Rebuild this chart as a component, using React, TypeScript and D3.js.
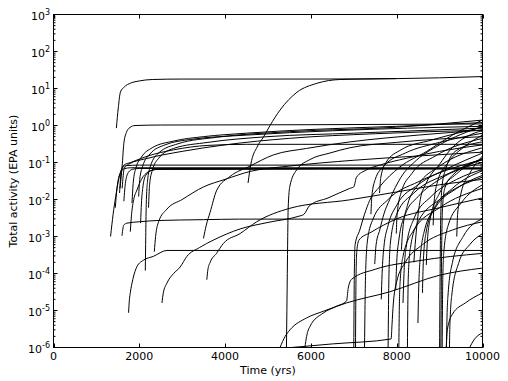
import React from "react";
import * as d3 from "d3";

type P = [number, number];

// x ticks (years) and y decades (exponents)
const xTicks = [0, 2000, 4000, 6000, 8000, 10000];
const yExponents = [-6, -5, -4, -3, -2, -1, 0, 1, 2, 3];

// ---- curves: [time (yrs), total activity (EPA units)] ----
const cTop18: P[] = [[1465, 0.85], [1510, 3], [1560, 8], [1650, 11], [1800, 14], [2000, 16], [2300, 17.5], [3000, 18], [6000, 18], [8000, 18.5], [10000, 21]];
const cRise18: P[] = [[4535, 0.028], [4600, 0.09], [4744, 0.26], [4900, 0.5], [5047, 1.0], [5279, 2.6], [5674, 7.9], [6140, 13.8], [6674, 17.5], [7200, 18], [8000, 18.5]];
const cOne: P[] = [[1550, 0.02], [1600, 0.08], [1640, 0.33], [1700, 0.65], [1780, 0.88], [1900, 1.0], [2500, 1.03], [6000, 1.05], [10000, 1.1]];
const cA: P[] = [[1540, 0.015], [1580, 0.06], [1640, 0.085], [1800, 0.1], [2200, 0.15], [2800, 0.22], [3600, 0.29], [4500, 0.31], [10000, 0.31]];
const cB: P[] = [[1600, 0.02], [1650, 0.07], [1750, 0.09], [2200, 0.13], [3000, 0.2], [4000, 0.3], [5500, 0.45], [7500, 0.6], [10000, 0.75]];
const cS1: P[] = [[1830, 0.008], [1860, 0.03], [1920, 0.07], [2050, 0.14], [2300, 0.25], [2800, 0.38], [3500, 0.5], [4500, 0.62], [6000, 0.78], [8000, 0.95], [10000, 1.2]];
const cS2: P[] = [[1985, 0.012], [2010, 0.035], [2080, 0.08], [2250, 0.17], [2600, 0.3], [3200, 0.42], [4500, 0.55], [6500, 0.72], [10000, 0.95]];
const cS3: P[] = [[2140, 1.2e-4], [2150, 1e-3], [2160, 6e-3], [2190, 0.03], [2260, 0.08], [2450, 0.18], [2900, 0.32], [3800, 0.48], [5500, 0.68], [8000, 0.9], [10000, 1.4]];
const cS4: P[] = [[2215, 0.006], [2240, 0.025], [2300, 0.06], [2450, 0.13], [2800, 0.24], [3600, 0.35], [5000, 0.5], [7000, 0.62], [10000, 0.85]];
const cF1: P[] = [[1330, 1e-3], [1390, 4e-3], [1450, 0.012], [1530, 0.04], [1600, 0.07], [1680, 0.082], [2000, 0.085], [10000, 0.085]];
const cF2: P[] = [[1440, 0.006], [1480, 0.02], [1550, 0.05], [1650, 0.068], [1800, 0.072], [10000, 0.072]];
const cF3: P[] = [[1640, 0.009], [1680, 0.03], [1750, 0.055], [1850, 0.066], [2000, 0.069], [10000, 0.069]];
const cF4: P[] = [[1790, 1.35e-3], [1820, 4e-3], [1870, 0.01], [1945, 0.018], [2050, 0.035], [2200, 0.055], [2400, 0.065], [10000, 0.067]];
const cF5: P[] = [[2030, 2.3e-3], [2050, 8e-3], [2080, 0.02], [2150, 0.045], [2300, 0.062], [2500, 0.066], [10000, 0.068]];
const c3e3: P[] = [[1597, 1.05e-3], [1620, 1.7e-3], [1635, 2.0e-3], [1713, 2.3e-3], [2000, 2.5e-3], [2411, 2.7e-3], [3500, 2.85e-3], [4340, 2.95e-3], [10000, 2.95e-3]];
const c4e4: P[] = [[1750, 8.7e-6], [1770, 2e-5], [1790, 3e-5], [1850, 7e-5], [1947, 1.55e-4], [2100, 2.3e-4], [2326, 2.9e-4], [2644, 4.2e-4], [10000, 4.2e-4]];
const cM1: P[] = [[2350, 3.9e-4], [2380, 1e-3], [2450, 2.5e-3], [2644, 5.5e-3], [3000, 0.01], [3500, 0.022], [4000, 0.035], [4600, 0.058], [5500, 0.08], [7000, 0.115], [8500, 0.15], [10000, 0.19]];
const cM2: P[] = [[3496, 8.9e-4], [3560, 2e-3], [3650, 4.5e-3], [3807, 0.018], [4116, 0.042], [4580, 0.08], [5124, 0.16], [5900, 0.24], [6907, 0.36], [8500, 0.55], [10000, 0.75]];
const cM3: P[] = [[3574, 6.8e-5], [3600, 1.3e-4], [3651, 2e-4], [3800, 3.5e-4], [3961, 6.5e-4], [4349, 1.2e-3], [4737, 2.5e-3], [5512, 5.8e-3], [6907, 9.8e-3], [8000, 0.016], [9000, 0.025], [10000, 0.035]];
const c2550: P[] = [[2528, 1.6e-5], [2560, 3e-5], [2644, 5.5e-5], [2800, 1e-4], [2953, 1.5e-4], [3109, 2.9e-4], [3400, 5e-4], [3728, 8e-4], [4349, 1.6e-3], [5000, 2.4e-3], [5744, 3.6e-3], [5830, 3.9e-3], [5977, 7e-3], [6400, 0.011], [6907, 0.02], [7000, 0.022], [7063, 0.04], [7295, 0.063], [7605, 0.085], [8226, 0.13], [9000, 0.2], [10000, 0.3]];
const cV5430: P[] = [[5430, 1e-6], [5440, 1e-5], [5450, 1e-4], [5460, 1e-3], [5470, 5.8e-3], [5510, 0.023], [5667, 0.063], [5977, 0.12], [6442, 0.18], [6907, 0.25], [8000, 0.35], [10000, 0.5]];
const cB1: P[] = [[5280, 1e-6], [5400, 2e-6], [5512, 3e-6], [5900, 6.3e-6], [6286, 9.5e-6], [6830, 1.6e-5], [7837, 3.2e-5], [9000, 9e-5], [10000, 1.4e-4]];
const cB2: P[] = [[5860, 1e-6], [5900, 2e-6], [5977, 3.7e-6], [6286, 8.5e-6], [6597, 1.3e-5], [6830, 1.8e-5], [6870, 4e-5], [6950, 7e-5], [7500, 1.3e-4], [8500, 2.2e-4], [10000, 3.5e-4]];
const cB3: P[] = [[5550, 1e-6], [6500, 1.25e-6], [7870, 1.7e-6], [7890, 4e-6], [7920, 1.5e-5], [8000, 6e-5], [8200, 2e-4], [8600, 6e-4], [9300, 1.5e-3], [10000, 2.5e-3]];
const cR1: P[] = [[7000, 1e-6], [7005, 1e-5], [7012, 1e-4], [7030, 6e-4], [7140, 1.5e-3], [7250, 4e-3], [7372, 0.0095], [7600, 0.022], [8070, 0.075], [8700, 0.2], [9300, 0.55], [10000, 1.4]];
const cR2: P[] = [[7040, 1e-6], [7045, 1e-5], [7052, 8e-5], [7070, 4e-4], [7120, 8e-4], [7400, 1.3e-3], [8000, 3e-3], [9000, 6e-3], [10000, 1.1e-2]];
const cU2: P[] = [[7488, 1.8e-4], [7520, 6e-4], [7605, 1.5e-3], [7700, 4e-3], [7837, 0.01], [8100, 0.04], [8460, 0.115], [9000, 0.3], [10000, 0.95]];
const cU3: P[] = [[8400, 2e-4], [8430, 6e-4], [8460, 1.5e-3], [8550, 0.01], [8690, 0.028], [9000, 0.09], [9233, 0.21], [10000, 0.74]];
const cU4: P[] = [[9000, 1e-6], [9005, 1e-5], [9012, 1e-4], [9020, 1e-3], [9035, 8e-3], [9060, 0.025], [9150, 0.07], [9390, 0.21], [10000, 0.36]];
const cV1: P[] = [[7250, 1e-6], [7260, 1e-5], [7275, 1e-4], [7320, 8e-4], [7450, 3e-3], [7800, 0.01], [8500, 0.03], [9300, 0.07], [10000, 0.12]];
const cV2: P[] = [[7640, 2e-5], [7660, 1e-4], [7700, 5e-4], [7800, 2e-3], [8000, 7e-3], [8500, 0.025], [9200, 0.07], [10000, 0.18]];
const cV3: P[] = [[7977, 3.6e-5], [8000, 2e-4], [8050, 8e-4], [8200, 4e-3], [8500, 0.012], [9000, 0.035], [10000, 0.1]];
const cV4: P[] = [[8147, 1.6e-5], [8170, 1e-4], [8220, 5e-4], [8400, 3e-3], [8800, 0.012], [9400, 0.035], [10000, 0.065]];
const cV5: P[] = [[8495, 4.6e-6], [8510, 3e-5], [8540, 2e-4], [8650, 1.5e-3], [8900, 6e-3], [9400, 0.02], [10000, 0.045]];
const cV6: P[] = [[8690, 1.7e-4], [8710, 6e-4], [8780, 3e-3], [9000, 0.015], [9400, 0.05], [10000, 0.13]];
const cV7: P[] = [[8110, 4.4e-4], [8140, 1.5e-3], [8250, 7e-3], [8500, 0.025], [9000, 0.08], [10000, 0.25]];
const cV8: P[] = [[7990, 1.2e-3], [8010, 4e-3], [8100, 0.015], [8350, 0.05], [8900, 0.15], [10000, 0.45]];
const cV9: P[] = [[9030, 1e-6], [9036, 1e-5], [9042, 1e-4], [9052, 1e-3], [9075, 8e-3], [9120, 0.02], [9300, 0.045], [10000, 0.12]];
const cV10: P[] = [[9060, 1e-6], [9066, 1e-5], [9075, 8e-5], [9100, 4e-4], [9200, 2e-3], [9500, 8e-3], [10000, 0.025]];
const cV11: P[] = [[9160, 1e-6], [9170, 5e-6], [9200, 3e-5], [9300, 2e-4], [9550, 1e-3], [10000, 3e-3]];
const cV12: P[] = [[9230, 1e-6], [9240, 4e-6], [9290, 3e-5], [9450, 2e-4], [9700, 6e-4], [10000, 1.2e-3]];
const cV13: P[] = [[9155, 1e-6], [9180, 3e-6], [9300, 8e-6], [9600, 1.6e-5], [10000, 3e-5]];
const cV14: P[] = [[9700, 1e-6], [9800, 1.6e-6], [10000, 2.5e-6]];
const cV15: P[] = [[8050, 1e-6], [8060, 1e-5], [8080, 6e-5], [8150, 3e-4], [8400, 1.5e-3], [9000, 6e-3], [10000, 0.02]];
const cV16: P[] = [[8250, 1e-6], [8258, 1e-5], [8270, 8e-5], [8320, 5e-4], [8500, 2.5e-3], [9000, 0.01], [10000, 0.04]];
const cV17: P[] = [[7800, 1e-6], [7808, 1e-5], [7820, 1e-4], [7860, 8e-4], [8000, 4e-3], [8400, 0.015], [9200, 0.05], [10000, 0.12]];
const cV18: P[] = [[8600, 3e-5], [8620, 2e-4], [8680, 1.2e-3], [8850, 5e-3], [9300, 0.02], [10000, 0.06]];
const cV19: P[] = [[9400, 1e-3], [9420, 4e-3], [9500, 0.015], [9700, 0.05], [10000, 0.15]];
const cV20: P[] = [[8850, 2e-3], [8870, 8e-3], [8950, 0.03], [9200, 0.1], [9600, 0.28], [10000, 0.55]];
const cV21: P[] = [[7400, 4e-3], [7420, 0.012], [7500, 0.035], [7700, 0.08], [8200, 0.18], [9000, 0.35], [10000, 0.62]];
const cV22: P[] = [[7600, 0.015], [7630, 0.04], [7750, 0.1], [8100, 0.22], [8800, 0.4], [10000, 0.9]];

const curves: P[][] = [
  cTop18, cRise18, cOne, cA, cB, cS1, cS2, cS3, cS4, cF1, cF2, cF3, cF4, cF5,
  c3e3, c4e4, cM1, cM2, cM3, c2550, cV5430, cB1, cB2, cB3, cR1, cR2, cU2, cU3, cU4,
  cV1, cV2, cV3, cV4, cV5, cV6, cV7, cV8, cV9, cV10, cV11, cV12, cV13, cV14, cV15,
  cV16, cV17, cV18, cV19, cV20, cV21, cV22,
];

const FONT = "DejaVu Sans, sans-serif";

export default function App() {
  const W = 508, H = 381;
  const L = 53.5, R = 482.5, T = 14.5, B = 347.5;
  const x = d3.scaleLinear().domain([0, 10000]).range([L, R]);
  const y = d3.scaleLog().domain([1e-6, 1e3]).range([B, T]);
  const line = d3.line<P>().x((d) => x(d[0])).y((d) => y(d[1])).curve(d3.curveMonotoneX);

  const minor: number[] = [];
  for (let e = -6; e < 3; e++) for (let m = 2; m <= 9; m++) minor.push(m * Math.pow(10, e));

  return (
    <div style={{ position: "absolute", left: 0, top: 0, width: W, height: H, background: "#fff" }}>
      <svg width={W} height={H} style={{ display: "block" }}>
        <defs>
          <clipPath id="plot">
            <rect x={L} y={T} width={R - L} height={B - T} />
          </clipPath>
        </defs>
        <rect x={0} y={0} width={W} height={H} fill="#fff" />
        <g clipPath="url(#plot)" fill="none" stroke="#000" strokeWidth={1}>
          {curves.map((c, i) => (
            <path key={i} d={line(c) || ""} />
          ))}
        </g>
        <rect x={L} y={T} width={R - L} height={B - T} fill="none" stroke="#000" strokeWidth={1} />
        <g stroke="#000" strokeWidth={1}>
          {xTicks.map((t) => (
            <g key={t}>
              <line x1={Math.round(x(t)) + 0.5} x2={Math.round(x(t)) + 0.5} y1={B} y2={B - 4} />
              <line x1={Math.round(x(t)) + 0.5} x2={Math.round(x(t)) + 0.5} y1={T} y2={T + 4} />
            </g>
          ))}
          {yExponents.map((e) => (
            <g key={e}>
              <line x1={L} x2={L + 4} y1={y(Math.pow(10, e))} y2={y(Math.pow(10, e))} />
              <line x1={R} x2={R - 4} y1={y(Math.pow(10, e))} y2={y(Math.pow(10, e))} />
            </g>
          ))}
          {minor.map((v, i) => (
            <g key={i}>
              <line x1={L} x2={L + 2} y1={y(v)} y2={y(v)} />
              <line x1={R} x2={R - 2} y1={y(v)} y2={y(v)} />
            </g>
          ))}
        </g>
        <g fontFamily={FONT} fontSize={11} fill="#000" textAnchor="middle">
          {xTicks.map((t) => (
            <text key={t} x={x(t)} y={360}>{t}</text>
          ))}
        </g>
        <g fontFamily={FONT} fill="#000">
          {yExponents.map((e) => {
            const yy = y(Math.pow(10, e));
            const exp = e < 0 ? "-" + Math.abs(e) : String(e);
            return (
              <text key={e} x={50} y={yy + 5} textAnchor="end" fontSize={11}>
                10
                <tspan fontSize={8} dy={-5}>{exp}</tspan>
              </text>
            );
          })}
        </g>
        <text x={(L + R) / 2} y={374} fontFamily={FONT} fontSize={11} textAnchor="middle" fill="#000">
          Time (yrs)
        </text>
        <text
          transform={`translate(17, ${(T + B) / 2}) rotate(-90)`}
          fontFamily={FONT}
          fontSize={11}
          textAnchor="middle"
          fill="#000"
        >
          Total activity (EPA units)
        </text>
      </svg>
    </div>
  );
}
